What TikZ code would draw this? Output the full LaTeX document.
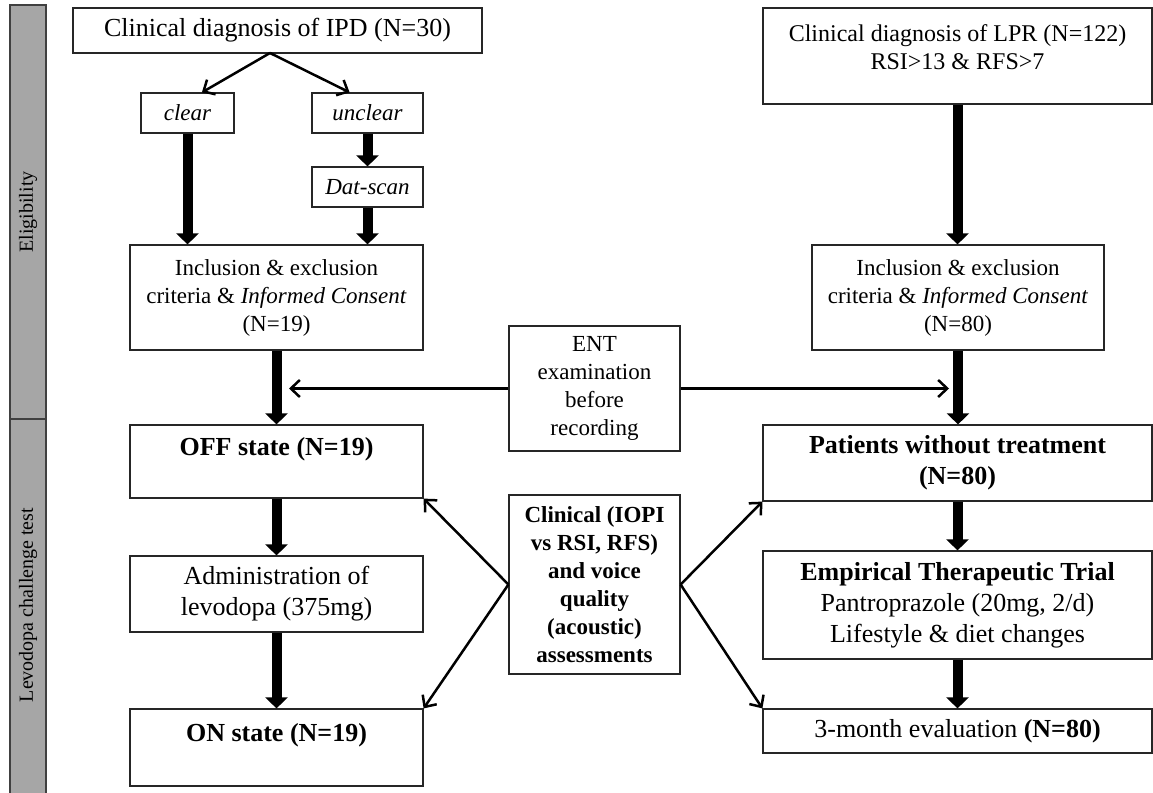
\documentclass[tikz,border=0pt]{standalone}
\usepackage{fontspec}
\setmainfont{Liberation Serif}
\usetikzlibrary{arrows.meta}

\begin{document}
\begin{tikzpicture}[x=1pt,y=-1pt,
    box/.style={draw=black!85,line width=1.2pt,inner sep=0pt,align=center},
    big/.style={font=\fontsize{26}{31}\selectfont},
    small/.style={font=\fontsize{23}{28}\selectfont},
    fat/.style={line width=10pt,-{Triangle[width=22pt,length=11pt]}},
    slim/.style={line width=2.5pt,-{Straight Barb[length=9pt,width=17pt]}}]
  \useasboundingbox (0,0) rectangle (1153,792);
  % side strip
  \draw[line width=2pt,draw=black!75,fill=black!35] (10,5) rectangle (46,419);
  \draw[line width=2pt,draw=black!75,fill=black!35] (10,419) rectangle (46,795);
  \node[rotate=90,font=\fontsize{20}{22}\selectfont] (elig) at (28,212) {Eligibility};
  \node[rotate=90,font=\fontsize{20}{22}\selectfont] (levo) at (28,605) {Levodopa challenge test};

  % left column
  \node[box,big,minimum width=409pt,minimum height=45pt] (ipd) at (277.5,30.5) {Clinical diagnosis of IPD (N=30)};
  \node[box,small,minimum width=93pt,minimum height=40pt] (clear) at (187.5,113) {\textit{clear}};
  \node[box,small,minimum width=111pt,minimum height=40pt] (unclear) at (367.5,113) {\textit{unclear}};
  \node[box,small,minimum width=111pt,minimum height=40pt] (dat) at (367.5,187) {\textit{Dat-scan}};
  \node[box,small,minimum width=293pt,minimum height=105pt] (inclL) at (276.5,297.5)
    {Inclusion \& exclusion\\criteria \& \textit{Informed Consent}\\(N=19)};
  \node[box,big,minimum width=293pt,minimum height=73pt] (off) at (276.5,461.5) {\textbf{OFF state (N=19)}\\~};
  \node[box,big,minimum width=293pt,minimum height=76pt] (admin) at (276.5,594) {Administration of\\levodopa (375mg)};
  \node[box,big,minimum width=293pt,minimum height=77pt] (on) at (276.5,747.5) {\textbf{ON state (N=19)}\\~};

  % middle
  \node[box,small,minimum width=171pt,minimum height=125pt] (ent) at (594.5,388.5) {ENT\\examination\\before\\recording};
  \node[box,small,font=\fontsize{23}{28}\selectfont\bfseries,minimum width=171pt,minimum height=179pt] (clin) at (594.5,584.5)
    {Clinical (IOPI\\vs RSI, RFS)\\and voice\\quality\\(acoustic)\\assessments};

  % right column
  \node[box,font=\fontsize{24}{28}\selectfont,minimum width=389pt,minimum height=96pt] (lpr) at (957.5,56)
    {Clinical diagnosis of LPR (N=122)\\RSI>13 \& RFS>7\\[-10pt]~};
  \node[box,small,minimum width=292pt,minimum height=105pt] (inclR) at (958,297.5)
    {Inclusion \& exclusion\\criteria \& \textit{Informed Consent}\\(N=80)};
  \node[box,big,minimum width=389pt,minimum height=76pt] (pat) at (957.5,463) {\textbf{Patients without treatment}\\\textbf{(N=80)}};
  \node[box,big,minimum width=389pt,minimum height=108pt] (emp) at (957.5,605)
    {\textbf{Empirical Therapeutic Trial}\\Pantroprazole (20mg, 2/d)\\Lifestyle \& diet changes};
  \node[box,big,minimum width=389pt,minimum height=44pt] (eval) at (957.5,731) {3-month evaluation \textbf{(N=80)}};

  % connectors
  \coordinate (split) at (270,53);
  \draw[slim] (split) -- (clear.55);
  \draw[slim] (split) -- (unclear.131);
  \draw[fat] (clear.south) -- (clear.south |- inclL.north);
  \draw[fat] (unclear.south) -- (dat.north);
  \draw[fat] (dat.south) -- (dat.south |- inclL.north);
  \draw[fat] (lpr.south) -- (lpr.south |- inclR.north);
  \draw[fat] (inclL.south) -- (off.north);
  \draw[fat] (inclR.south) -- (inclR.south |- pat.north);
  \draw[fat] (off.south) -- (admin.north);
  \draw[fat] (admin.south) -- (on.north);
  \draw[fat] (pat.south) -- (emp.north);
  \draw[fat] (emp.south) -- (eval.north);

  \coordinate (offin) at (289,388.5);
  \coordinate (patin) at (949,388.5);
  \draw[slim] (ent.west) -- (offin);
  \draw[slim] (ent.east) -- (patin);
  \draw[slim] (clin.west) -- (off.south east);
  \draw[slim] (clin.west) -- (on.north east);
  \draw[slim] (clin.east) -- (pat.south west);
  \draw[slim] (clin.east) -- (eval.north west);
\end{tikzpicture}
\end{document}
